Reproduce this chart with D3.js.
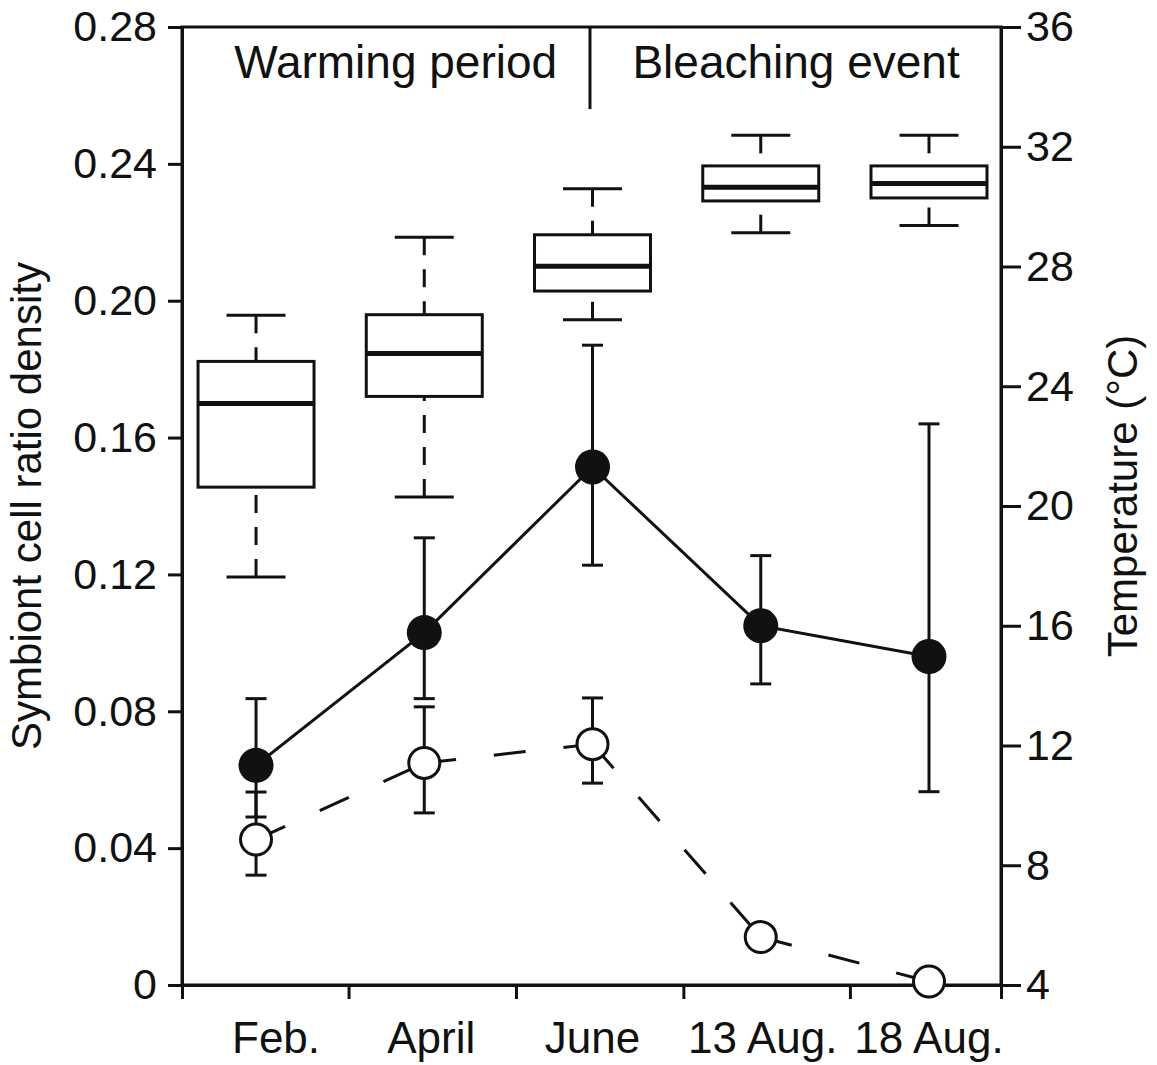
<!DOCTYPE html>
<html>
<head>
<meta charset="utf-8">
<script src="https://cdn.jsdelivr.net/npm/d3@7"></script>
<style>
  html, body { margin: 0; padding: 0; background: #fff; }
  svg { display: block; }
  text { font-family: "Liberation Sans", Arial, Helvetica, sans-serif; fill: #111; }
</style>
</head>
<body>
<svg id="chart" width="1157" height="1065"></svg>
<script>
// Sampling dates
const categories = ["Feb.", "April", "June", "13 Aug.", "18 Aug."];
const positions = [1, 2, 3, 4, 5];

// Seawater temperature (°C), box-and-whisker summaries
const tempLow    = [17.63, 20.30, 26.22, 29.13, 29.37];
const tempQ1     = [20.63, 23.66, 27.18, 30.19, 30.29];
const tempMedian = [23.42, 25.09, 28.01, 30.65, 30.77];
const tempQ3     = [24.83, 26.39, 29.06, 31.36, 31.36];
const tempHigh   = [26.37, 28.98, 30.60, 32.38, 32.38];

// Symbiont cell ratio density, filled-circle series (mean with error bars)
const filledMean  = [0.0642, 0.1030, 0.1514, 0.1050, 0.0960];
const filledUpper = [0.0837, 0.1307, 0.1870, 0.1255, 0.1640];
const filledLower = [0.0491, 0.0837, 0.1227, 0.0880, 0.0565];

// Symbiont cell ratio density, open-circle series
const openMean  = [0.0425, 0.0649, 0.0704, 0.0140, 0.0010];
const openUpper = [0.0564, 0.0813, 0.0839, null, null];
const openLower = [0.0321, 0.0503, 0.0590, null, null];

// Axis ticks
const densityTicks = [0, 0.04, 0.08, 0.12, 0.16, 0.20, 0.24, 0.28];
const tempTicks = [4, 8, 12, 16, 20, 24, 28, 32, 36];
const xTickPositions = [0.56, 1.55, 2.545, 3.54, 4.53, 5.428];

// Period annotations along the top of the panel
const periodLabels = ["Warming period", "Bleaching event"];
const periodCenters = [1.83, 4.21];
const periodDivider = 2.985;

const svg = d3.select("#chart");
const frame = { left: 182, right: 1001, top: 27, bottom: 985 };

const x = d3.scaleLinear().domain([0.56, 5.428]).range([frame.left, frame.right]);
const yDen = d3.scaleLinear().domain([0, 0.28]).range([frame.bottom, frame.top]);
const yTemp = d3.scaleLinear().domain([4, 36]).range([frame.bottom, frame.top]);

const ink = "#111";
const fontSize = 43;
// small horizontal nudges for the date labels
const dateLabelDx = [20, 7, 0, 2, 0];

// Plot frame
svg.append("rect")
  .attr("x", frame.left).attr("y", frame.top)
  .attr("width", frame.right - frame.left).attr("height", frame.bottom - frame.top)
  .attr("fill", "none").attr("stroke", ink).attr("stroke-width", 3);

// Left axis
const leftAxis = svg.append("g")
  .attr("transform", `translate(${frame.left},0)`)
  .call(d3.axisLeft(yDen).tickValues(densityTicks).tickSizeOuter(0).tickSizeInner(14).tickPadding(11)
    .tickFormat(d => d === 0 ? "0" : d3.format(".2f")(d)));

// Right axis
const rightAxis = svg.append("g")
  .attr("transform", `translate(${frame.right},0)`)
  .call(d3.axisRight(yTemp).tickValues(tempTicks).tickSizeOuter(0).tickSizeInner(20).tickPadding(5)
    .tickFormat(d3.format("d")));

// Bottom axis: tick marks between sampling dates, labels under each date
const bottomAxis = svg.append("g")
  .attr("transform", `translate(0,${frame.bottom})`)
  .call(d3.axisBottom(x).tickValues(xTickPositions).tickSizeOuter(0).tickSizeInner(14).tickFormat(""));

[leftAxis, rightAxis, bottomAxis].forEach(g => {
  g.select(".domain").attr("stroke", ink).attr("stroke-width", 3);
  g.selectAll(".tick line").attr("stroke", ink).attr("stroke-width", 3);
  g.selectAll(".tick text").attr("font-size", fontSize).attr("fill", ink)
    .style("font-family", '"Liberation Sans", Arial, Helvetica, sans-serif');
});

svg.append("g").selectAll("text")
  .data(categories)
  .join("text")
  .attr("x", (d, i) => x(positions[i]) + dateLabelDx[i])
  .attr("y", 1053)
  .attr("text-anchor", "middle")
  .attr("font-size", 44)
  .text(d => d);

// Axis titles
svg.append("text")
  .attr("transform", `translate(41,${(frame.top + frame.bottom) / 2}) rotate(-90)`)
  .attr("text-anchor", "middle")
  .attr("font-size", 42)
  .text("Symbiont cell ratio density");

svg.append("text")
  .attr("transform", `translate(1137,496) rotate(-90)`)
  .attr("text-anchor", "middle")
  .attr("font-size", 42)
  .text("Temperature (°C)");

// Period divider and labels
svg.append("line")
  .attr("x1", x(periodDivider)).attr("x2", x(periodDivider))
  .attr("y1", yDen(0.28)).attr("y2", yDen(0.256))
  .attr("stroke", ink).attr("stroke-width", 3);

svg.append("g").selectAll("text")
  .data(periodLabels)
  .join("text")
  .attr("x", (d, i) => x(periodCenters[i]))
  .attr("y", yDen(0.265))
  .attr("text-anchor", "middle")
  .attr("font-size", 46)
  .text(d => d);

// Temperature box plots
const boxHalf = 58, capHalf = 29.5;
const boxes = svg.append("g");
positions.forEach((p, i) => {
  const cx = x(p);
  const g = boxes.append("g");
  // dashed whiskers run from the caps toward the box
  g.append("line")
    .attr("x1", cx).attr("x2", cx)
    .attr("y1", yTemp(tempHigh[i])).attr("y2", yTemp(tempQ3[i]))
    .attr("stroke", ink).attr("stroke-width", 3).attr("stroke-dasharray", "18,14");
  g.append("line")
    .attr("x1", cx).attr("x2", cx)
    .attr("y1", yTemp(tempLow[i])).attr("y2", yTemp(tempQ1[i]))
    .attr("stroke", ink).attr("stroke-width", 3).attr("stroke-dasharray", "18,14");
  [tempHigh[i], tempLow[i]].forEach(v => {
    g.append("line")
      .attr("x1", cx - capHalf).attr("x2", cx + capHalf)
      .attr("y1", yTemp(v)).attr("y2", yTemp(v))
      .attr("stroke", ink).attr("stroke-width", 3);
  });
  g.append("rect")
    .attr("x", cx - boxHalf).attr("width", boxHalf * 2)
    .attr("y", yTemp(tempQ3[i])).attr("height", yTemp(tempQ1[i]) - yTemp(tempQ3[i]))
    .attr("fill", "#fff").attr("stroke", ink).attr("stroke-width", 3);
  g.append("line")
    .attr("x1", cx - boxHalf).attr("x2", cx + boxHalf)
    .attr("y1", yTemp(tempMedian[i])).attr("y2", yTemp(tempMedian[i]))
    .attr("stroke", ink).attr("stroke-width", 5);
});

// Open-circle series: dashed segments, pattern restarting at each point
const openSeg = svg.append("g");
for (let i = 0; i < positions.length - 1; i++) {
  openSeg.append("line")
    .attr("x1", x(positions[i])).attr("y1", yDen(openMean[i]))
    .attr("x2", x(positions[i + 1])).attr("y2", yDen(openMean[i + 1]))
    .attr("stroke", ink).attr("stroke-width", 3).attr("stroke-dasharray", "32,38");
}

// Filled-circle series: solid line
svg.append("path")
  .datum(positions.map((p, i) => [p, filledMean[i]]))
  .attr("d", d3.line().x(d => x(d[0])).y(d => yDen(d[1])))
  .attr("fill", "none").attr("stroke", ink).attr("stroke-width", 3);

// Error bars
const errCap = 10.5;
function errorBars(lower, upper) {
  const g = svg.append("g");
  positions.forEach((p, i) => {
    if (lower[i] == null || upper[i] == null) return;
    const cx = x(p);
    g.append("line")
      .attr("x1", cx).attr("x2", cx)
      .attr("y1", yDen(upper[i])).attr("y2", yDen(lower[i]))
      .attr("stroke", ink).attr("stroke-width", 3);
    [upper[i], lower[i]].forEach(v => {
      g.append("line")
        .attr("x1", cx - errCap).attr("x2", cx + errCap)
        .attr("y1", yDen(v)).attr("y2", yDen(v))
        .attr("stroke", ink).attr("stroke-width", 3);
    });
  });
}
errorBars(filledLower, filledUpper);
errorBars(openLower, openUpper);

// Markers
svg.append("g").selectAll("circle")
  .data(openMean)
  .join("circle")
  .attr("cx", (d, i) => x(positions[i]))
  .attr("cy", d => yDen(d))
  .attr("r", 15.5)
  .attr("fill", "#fff").attr("stroke", ink).attr("stroke-width", 3);

svg.append("g").selectAll("circle")
  .data(filledMean)
  .join("circle")
  .attr("cx", (d, i) => x(positions[i]))
  .attr("cy", d => yDen(d))
  .attr("r", 17.5)
  .attr("fill", ink);
</script>
</body>
</html>
